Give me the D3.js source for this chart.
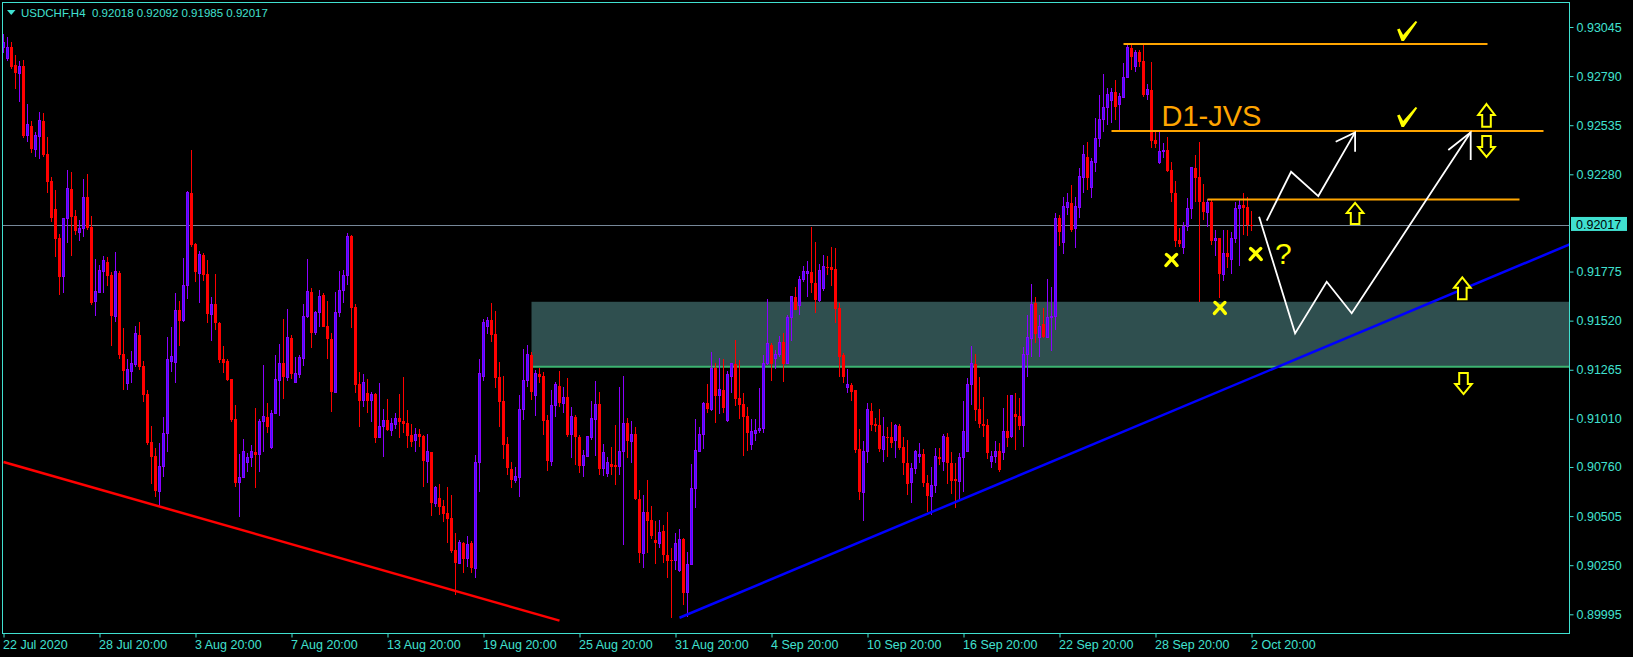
<!DOCTYPE html>
<html><head><meta charset="utf-8">
<script src="https://cdn.jsdelivr.net/npm/d3@7"></script>
<style>html,body{margin:0;padding:0;background:#000;overflow:hidden}svg{display:block}</style>
</head><body><svg id="c" width="1633" height="657"></svg>
<script>
// ---------------- DATA ----------------
const symbol = "USDCHF,H4";
const lastQuote = [0.92018, 0.92092, 0.91985, 0.92017];
const currentPrice = 0.92017;

const open = [
0.92936,0.92879,0.92941,0.92848,0.92806,0.92842,0.92479,0.92531,0.92411,0.92474,
0.92557,0.92385,0.92245,0.92100,0.91949,0.91747,0.92048,0.92204,0.92063,0.91980,
0.91996,0.92162,0.92006,0.91617,0.91664,0.91773,0.91824,0.91757,0.91544,0.91767,
0.91347,0.91196,0.91258,0.91290,0.91445,0.91284,0.91139,0.90890,0.90817,0.90635,
0.90760,0.90936,0.91310,0.91305,0.91575,0.91523,0.91705,0.92183,0.91918,0.91767,
0.91861,0.91762,0.91554,0.91606,0.91508,0.91321,0.91310,0.91217,0.91009,0.90677,
0.90703,0.90781,0.90807,0.90838,0.90827,0.90994,0.91020,0.90859,0.91040,0.91207,
0.91300,0.91227,0.91430,0.91201,0.91238,0.91326,0.91544,0.91669,0.91456,0.91560,
0.91653,0.91492,0.91425,0.91149,0.91560,0.91679,0.91752,0.91959,0.91591,0.91191,
0.91103,0.91144,0.91103,0.91139,0.90911,0.90968,0.91004,0.90952,0.90983,0.91014,
0.90999,0.90988,0.90926,0.90900,0.90931,0.90921,0.90791,0.90838,0.90573,0.90599,
0.90557,0.90521,0.90495,0.90329,0.90261,0.90365,0.90287,0.90365,0.90235,0.90781,
0.91232,0.91492,0.91523,0.91451,0.91227,0.91103,0.90879,0.90750,0.90692,0.90708,
0.91061,0.91207,0.91342,0.91129,0.91243,0.91232,0.91004,0.90791,0.91077,0.91181,
0.91092,0.91123,0.90931,0.91020,0.90916,0.90770,0.90817,0.90911,0.91009,0.91087,
0.90750,0.90724,0.90775,0.90770,0.90760,0.90843,0.90988,0.90890,0.90931,0.90594,
0.90313,0.90526,0.90485,0.90381,0.90365,0.90428,0.90303,0.90277,0.90272,0.90220,
0.90386,0.90106,0.90256,0.90646,0.90843,0.90931,0.91092,0.91061,0.91274,0.91129,
0.91160,0.91004,0.91232,0.91295,0.91118,0.91087,0.91025,0.90879,0.90936,0.90947,
0.90962,0.91295,0.91393,0.91321,0.91342,0.91409,0.91295,0.91534,0.91643,0.91601,
0.91736,0.91767,0.91773,0.91715,0.91627,0.91689,0.91799,0.91799,0.91788,0.91586,
0.91342,0.91175,0.91186,0.91160,0.90853,0.90630,0.90838,0.91051,0.90983,0.90978,
0.90853,0.90916,0.90916,0.90895,0.90973,0.90864,0.90781,0.90677,0.90750,0.90817,
0.90827,0.90677,0.90609,0.90666,0.90812,0.90786,0.90916,0.90781,0.90698,0.90687,
0.90807,0.90843,0.91191,0.91295,0.91061,0.90983,0.90978,0.90786,0.90812,0.90843,
0.90833,0.90947,0.90916,0.91035,0.91025,0.90973,0.91342,0.91425,0.91612,0.91435,
0.91502,0.91435,0.91534,0.91539,0.92053,0.91928,0.92110,0.92131,0.91996,0.92110,
0.92266,0.92370,0.92214,0.92339,0.92468,0.92567,0.92629,0.92661,0.92707,0.92640,
0.92681,0.92785,0.92936,0.92842,0.92915,0.92868,0.92692,0.92718,0.92458,0.92339,
0.92396,0.92406,0.92302,0.92183,0.91939,0.91902,0.92011,0.92105,0.92313,0.92266,
0.92136,0.92084,0.92136,0.91934,0.91949,0.91762,0.91871,0.91840,0.91949,0.92105,
0.92120,0.92110,0.92018];

const high = [
0.93008,0.92993,0.92967,0.92899,0.92868,0.92873,0.92645,0.92557,0.92500,0.92603,
0.92598,0.92474,0.92266,0.92198,0.91970,0.92048,0.92302,0.92292,0.92095,0.92043,
0.92255,0.92281,0.92063,0.91840,0.91809,0.91856,0.91850,0.91773,0.91876,0.91778,
0.91482,0.91321,0.91362,0.91492,0.91513,0.91310,0.91160,0.90973,0.90859,0.90885,
0.91020,0.91435,0.91487,0.91664,0.91622,0.91845,0.92193,0.92406,0.91923,0.91882,
0.91871,0.91835,0.91643,0.91762,0.91513,0.91388,0.91321,0.91217,0.91082,0.90827,
0.90905,0.90833,0.90874,0.91066,0.91009,0.91290,0.91092,0.91056,0.91342,0.91399,
0.91528,0.91580,0.91445,0.91331,0.91342,0.91606,0.91840,0.91689,0.91570,0.91679,
0.91664,0.91622,0.91456,0.91669,0.91778,0.91783,0.91975,0.91965,0.91606,0.91253,
0.91243,0.91217,0.91149,0.91144,0.91196,0.91061,0.91113,0.91014,0.91040,0.91139,
0.91227,0.91056,0.90983,0.90962,0.90957,0.90926,0.90931,0.90838,0.90661,0.90672,
0.90589,0.90656,0.90615,0.90417,0.90381,0.90370,0.90402,0.90376,0.90822,0.91321,
0.91528,0.91539,0.91612,0.91570,0.91305,0.91232,0.90916,0.90786,0.90760,0.91134,
0.91373,0.91393,0.91357,0.91264,0.91274,0.91253,0.91030,0.91160,0.91201,0.91258,
0.91175,0.91222,0.91071,0.91030,0.90926,0.90848,0.90921,0.91103,0.91207,0.91149,
0.90879,0.90812,0.90864,0.90978,0.91175,0.91232,0.91014,0.90999,0.90968,0.90640,
0.90615,0.90692,0.90557,0.90479,0.90485,0.90459,0.90526,0.90339,0.90417,0.90438,
0.90391,0.90318,0.90775,0.91009,0.90968,0.91097,0.91191,0.91357,0.91300,0.91326,
0.91321,0.91258,0.91300,0.91420,0.91316,0.91144,0.91071,0.91009,0.91009,0.91170,
0.91342,0.91632,0.91404,0.91367,0.91440,0.91456,0.91549,0.91648,0.91695,0.91752,
0.91804,0.91830,0.92006,0.91928,0.91814,0.91861,0.91856,0.91902,0.91897,0.91612,
0.91352,0.91269,0.91196,0.91160,0.90957,0.90895,0.91092,0.91092,0.91014,0.91061,
0.91020,0.90968,0.90994,0.90983,0.90983,0.90916,0.90900,0.90781,0.90848,0.90885,
0.90853,0.90718,0.90760,0.90859,0.90859,0.90931,0.90936,0.90838,0.90781,0.90833,
0.91103,0.91222,0.91388,0.91347,0.91227,0.91123,0.91009,0.90843,0.90895,0.90885,
0.91066,0.91134,0.91134,0.91144,0.91118,0.91383,0.91549,0.91710,0.91643,0.91549,
0.91586,0.91736,0.91695,0.92079,0.92068,0.92162,0.92183,0.92224,0.92162,0.92313,
0.92432,0.92448,0.92365,0.92572,0.92692,0.92801,0.92728,0.92728,0.92770,0.92702,
0.92858,0.92957,0.92951,0.92925,0.92925,0.92957,0.92749,0.92863,0.92500,0.92500,
0.92442,0.92474,0.92344,0.92245,0.92001,0.92032,0.92157,0.92313,0.92380,0.92448,
0.92230,0.92152,0.92147,0.91991,0.91949,0.91991,0.91991,0.91980,0.92136,0.92147,
0.92183,0.92162,0.92092];

const low = [
0.92910,0.92868,0.92827,0.92723,0.92655,0.92468,0.92448,0.92390,0.92370,0.92359,
0.92370,0.92183,0.92032,0.91850,0.91653,0.91664,0.91923,0.91856,0.91965,0.91934,
0.91954,0.91991,0.91601,0.91544,0.91664,0.91664,0.91700,0.91388,0.91513,0.91321,
0.91160,0.91160,0.91196,0.91279,0.91264,0.91097,0.90874,0.90672,0.90604,0.90552,
0.90708,0.90838,0.91253,0.91196,0.91388,0.91513,0.91632,0.91902,0.91721,0.91612,
0.91726,0.91508,0.91414,0.91471,0.91300,0.91248,0.91207,0.90994,0.90656,0.90500,
0.90703,0.90734,0.90760,0.90651,0.90734,0.90838,0.90936,0.90853,0.91035,0.91025,
0.91113,0.91207,0.91217,0.91196,0.91222,0.91284,0.91534,0.91378,0.91445,0.91487,
0.91487,0.91321,0.91046,0.91144,0.91539,0.91612,0.91705,0.91482,0.91144,0.90968,
0.91071,0.91040,0.90994,0.90885,0.90911,0.90812,0.90947,0.90921,0.90957,0.90911,
0.90936,0.90859,0.90864,0.90838,0.90864,0.90656,0.90677,0.90505,0.90552,0.90511,
0.90474,0.90365,0.90313,0.90095,0.90261,0.90209,0.90241,0.90209,0.90183,0.90630,
0.91207,0.91451,0.91409,0.91170,0.90968,0.90801,0.90718,0.90651,0.90677,0.90604,
0.91004,0.91175,0.91108,0.91025,0.91196,0.90926,0.90739,0.90765,0.91020,0.91071,
0.91040,0.90916,0.90807,0.90770,0.90729,0.90708,0.90812,0.90900,0.90817,0.90718,
0.90713,0.90708,0.90718,0.90666,0.90718,0.90355,0.90807,0.90781,0.90589,0.90261,
0.90235,0.90313,0.90386,0.90256,0.90339,0.90261,0.90183,0.89976,0.90225,0.90215,
0.90043,0.89981,0.90251,0.90547,0.90838,0.90853,0.91040,0.91051,0.90988,0.91035,
0.91040,0.90994,0.91144,0.91077,0.91009,0.90817,0.90843,0.90848,0.90895,0.90936,
0.90936,0.91290,0.91207,0.91269,0.91331,0.91201,0.91295,0.91414,0.91575,0.91549,
0.91721,0.91643,0.91664,0.91560,0.91617,0.91674,0.91757,0.91700,0.91508,0.91227,
0.91196,0.91144,0.91103,0.90833,0.90589,0.90479,0.90781,0.90947,0.90942,0.90838,
0.90786,0.90812,0.90859,0.90807,0.90848,0.90718,0.90615,0.90573,0.90724,0.90781,
0.90656,0.90526,0.90511,0.90625,0.90770,0.90739,0.90672,0.90620,0.90547,0.90583,
0.90630,0.90843,0.91082,0.90999,0.90962,0.90916,0.90801,0.90755,0.90781,0.90734,
0.90796,0.90864,0.90911,0.90848,0.90952,0.90864,0.91227,0.91331,0.91404,0.91331,
0.91430,0.91430,0.91362,0.91472,0.91907,0.91866,0.92068,0.91980,0.91897,0.92053,
0.92183,0.92198,0.92157,0.92292,0.92422,0.92500,0.92536,0.92546,0.92562,0.92510,
0.92676,0.92780,0.92821,0.92811,0.92837,0.92681,0.92666,0.92416,0.92416,0.92333,
0.92365,0.92292,0.92136,0.91902,0.91902,0.91866,0.91985,0.92048,0.92136,0.91617,
0.92043,0.92006,0.91913,0.91856,0.91638,0.91726,0.91793,0.91762,0.91923,0.91804,
0.91965,0.91959,0.91985];

const close = [
0.92967,0.92941,0.92837,0.92806,0.92842,0.92479,0.92541,0.92411,0.92479,0.92562,
0.92380,0.92240,0.92053,0.91944,0.91747,0.92048,0.92204,0.92058,0.91985,0.91996,
0.92162,0.92001,0.91612,0.91669,0.91783,0.91830,0.91752,0.91544,0.91773,0.91342,
0.91258,0.91264,0.91295,0.91451,0.91279,0.91134,0.90885,0.90812,0.90635,0.90760,
0.90936,0.91316,0.91336,0.91575,0.91518,0.91705,0.92183,0.91913,0.91773,0.91861,
0.91757,0.91554,0.91606,0.91508,0.91316,0.91300,0.91212,0.91004,0.90677,0.90703,
0.90838,0.90807,0.90838,0.90822,0.90994,0.91020,0.90968,0.91040,0.91212,0.91300,
0.91227,0.91435,0.91243,0.91243,0.91331,0.91544,0.91669,0.91456,0.91560,0.91648,
0.91487,0.91425,0.91149,0.91560,0.91674,0.91757,0.91959,0.91586,0.91186,0.91103,
0.91201,0.91103,0.91134,0.90911,0.90968,0.91004,0.90952,0.90988,0.91014,0.90994,
0.90983,0.90921,0.90890,0.90931,0.90916,0.90791,0.90838,0.90573,0.90651,0.90552,
0.90516,0.90490,0.90324,0.90261,0.90370,0.90282,0.90360,0.90235,0.90781,0.91243,
0.91508,0.91523,0.91445,0.91222,0.91097,0.90874,0.90755,0.90692,0.90713,0.91061,
0.91207,0.91342,0.91149,0.91243,0.91227,0.90999,0.90791,0.91077,0.91186,0.91092,
0.91123,0.90926,0.91020,0.90916,0.90765,0.90822,0.90916,0.91014,0.91087,0.90750,
0.90833,0.90781,0.90760,0.90760,0.90843,0.90988,0.90895,0.90931,0.90594,0.90313,
0.90526,0.90479,0.90402,0.90365,0.90422,0.90303,0.90272,0.90272,0.90365,0.90386,
0.90106,0.90256,0.90646,0.90848,0.90931,0.91092,0.91061,0.91274,0.91129,0.91165,
0.91066,0.91238,0.91295,0.91113,0.91082,0.91020,0.90936,0.90942,0.90952,0.90962,
0.91295,0.91399,0.91295,0.91342,0.91404,0.91295,0.91534,0.91643,0.91575,0.91736,
0.91773,0.91773,0.91715,0.91627,0.91783,0.91799,0.91793,0.91783,0.91580,0.91331,
0.91227,0.91186,0.91149,0.90848,0.90630,0.90838,0.91056,0.90978,0.90973,0.90853,
0.90916,0.90911,0.90885,0.90973,0.90859,0.90781,0.90672,0.90750,0.90838,0.90827,
0.90677,0.90609,0.90666,0.90812,0.90801,0.90916,0.90781,0.90687,0.90687,0.90807,
0.90942,0.91191,0.91295,0.91056,0.90983,0.90973,0.90833,0.90812,0.90843,0.90744,
0.90942,0.90911,0.91129,0.91020,0.90973,0.91342,0.91430,0.91606,0.91451,0.91492,
0.91435,0.91534,0.91539,0.92053,0.91980,0.92115,0.92131,0.91991,0.92115,0.92271,
0.92385,0.92261,0.92344,0.92468,0.92567,0.92629,0.92697,0.92707,0.92629,0.92686,
0.92785,0.92936,0.92889,0.92915,0.92863,0.92692,0.92718,0.92453,0.92437,0.92401,
0.92406,0.92297,0.92183,0.91934,0.91918,0.92011,0.92105,0.92313,0.92261,0.92136,
0.92084,0.92136,0.91934,0.91949,0.91762,0.91871,0.91850,0.91949,0.92105,0.92120,
0.92105,0.92017,0.92017];

const priceTicks = [0.93045,0.92790,0.92535,0.92280,0.91775,0.91520,0.91265,0.91010,0.90760,0.90505,0.90250,0.89995];
const timeLabels = ["22 Jul 2020","28 Jul 20:00","3 Aug 20:00","7 Aug 20:00","13 Aug 20:00","19 Aug 20:00","25 Aug 20:00","31 Aug 20:00","4 Sep 20:00","10 Sep 20:00","16 Sep 20:00","22 Sep 20:00","28 Sep 20:00","2 Oct 20:00"];
const barsPerLabel = 24;

// drawn objects, in (bar index, price)
const zoneStart = 132, zoneTop = 0.91618, zoneBottom = 0.91281;
const redTrend = [[0, 0.90786], [139, 0.89962]];
const blueTrend = [[169, 0.89977], [392, 0.91920]];
const levelFrom = [280, 277, 301];
const levelTo = [371, 385, 379];
const levelPrice = [0.92957, 0.92505, 0.92149];
const pathA = [[315.8,0.92039],[321.9,0.92293],[328.7,0.92167],[337.9,0.92498]];
const headA = [[333.05,0.92449],[337.9,0.92498],[337.9,0.92397]];
const pathB = [[313.9,0.92060],[322.9,0.91454],[330.8,0.91722],[337.05,0.91558],[366.8,0.92498]];
const headB = [[361.2,0.92406],[366.8,0.92498],[366.8,0.92354]];
const arrowBar = [370.75, 370.75, 337.9, 364.7, 365];
const arrowTop = [0.92645, 0.92479, 0.92132, 0.91745, 0.91248];
const arrowBottom = [0.92527, 0.92370, 0.92022, 0.91631, 0.91139];
const arrowDir = ["up","down","up","up","down"];
const checkBar = [350.9, 350.9];
const checkPrice = [0.93024, 0.92577];
const crossBar = [292, 304.1, 313.05];
const crossPrice = [0.91835, 0.91586, 0.91866];
const questionAt = [317.9, 0.91814];
const labelText = "D1-JVS", labelAt = [289.5, 0.92531];

// ---------------- DRAW ----------------
const W = 1633, H = 657;
const L = 2.5, R = 1569.5, T = 2.5, B = 633.5;
const AXIS = "#40E0D0", BEAR = "#ff0000", BULL_LINE = "#8c00ff", BULL_FILL = "#3418ff";
const YEL = "#ffff00", ORANGE = "#ffa500";
const FONT = "'Liberation Sans', Arial, sans-serif";

const svg = d3.select("#c");
svg.append("rect").attr("width", W).attr("height", H).attr("fill", "#000");

const N = open.length;
const x = d3.scaleLinear().domain([0, N - 1]).range([3.5, 3.5 + 4 * (N - 1)]);
const y = d3.scaleLinear().domain([0.89995, 0.93045]).range([614.3, 27]);

svg.append("defs").append("clipPath").attr("id", "pc")
  .append("rect").attr("x", 3).attr("y", 3).attr("width", R - 3.5).attr("height", B - 3.5);

const plot = svg.append("g").attr("clip-path", "url(#pc)");

// zone
plot.append("rect").attr("x", x(zoneStart)).attr("y", y(zoneTop))
  .attr("width", R - x(zoneStart)).attr("height", y(zoneBottom) - y(zoneTop))
  .attr("fill", "#2f4f4f");
plot.append("line").attr("x1", x(zoneStart)).attr("x2", R)
  .attr("y1", y(zoneBottom)).attr("y2", y(zoneBottom))
  .attr("stroke", "#3cb371").attr("stroke-width", 2);

// current price line
plot.append("line").attr("x1", L).attr("x2", R)
  .attr("y1", Math.round(y(currentPrice)) + 0.5).attr("y2", Math.round(y(currentPrice)) + 0.5)
  .attr("stroke", "#778899").attr("stroke-width", 1);

// candles
const idx = d3.range(N);
const isBull = i => close[i] >= open[i] && close[i] !== open[i];
plot.append("g").selectAll("line").data(idx).join("line")
  .attr("x1", i => x(i)).attr("x2", i => x(i))
  .attr("y1", i => y(high[i])).attr("y2", i => y(low[i]))
  .attr("stroke", i => isBull(i) ? BULL_LINE : BEAR)
  .attr("stroke-width", 1).attr("shape-rendering", "crispEdges");
plot.append("g").selectAll("rect").data(idx.filter(i => !isBull(i))).join("rect")
  .attr("x", i => x(i) - 1.5).attr("width", 3)
  .attr("y", i => y(open[i]))
  .attr("height", i => Math.max(1, y(close[i]) - y(open[i])))
  .attr("fill", BEAR).attr("shape-rendering", "crispEdges");
plot.append("g").selectAll("rect").data(idx.filter(isBull)).join("rect")
  .attr("x", i => x(i) - 1).attr("width", 2)
  .attr("y", i => y(close[i]))
  .attr("height", i => Math.max(0.5, y(open[i]) - y(close[i])))
  .attr("fill", BULL_FILL).attr("stroke", BULL_LINE).attr("stroke-width", 1)
  .attr("shape-rendering", "crispEdges");

// trend lines
const ln = d3.line().x(d => x(d[0])).y(d => y(d[1]));
function extend(pts, x0, x1) {
  const [a, b] = pts, s = (b[1] - a[1]) / (b[0] - a[0]);
  return [[x0, a[1] + s * (x0 - a[0])], [x1, a[1] + s * (x1 - a[0])]];
}
plot.append("path").attr("d", ln(redTrend)).attr("stroke", BEAR).attr("stroke-width", 2.5).attr("fill", "none");
plot.append("path").attr("d", ln(extend(blueTrend, blueTrend[0][0], 420))).attr("stroke", "#0000ff").attr("stroke-width", 2.5).attr("fill", "none");

// orange levels
plot.append("g").selectAll("line").data(levelPrice).join("line")
  .attr("x1", (d, k) => x(levelFrom[k])).attr("x2", (d, k) => x(levelTo[k]))
  .attr("y1", d => y(d)).attr("y2", d => y(d))
  .attr("stroke", ORANGE).attr("stroke-width", 2);

plot.append("text").attr("x", x(labelAt[0])).attr("y", y(labelAt[1]))
  .attr("fill", ORANGE).attr("font-family", FONT).attr("font-size", 29).text(labelText);

// white scenario paths
[pathA, headA, pathB, headB].forEach(p => {
  plot.append("path").attr("d", ln(p)).attr("fill", "none")
    .attr("stroke", "#fff").attr("stroke-width", 1.8).attr("stroke-linejoin", "miter");
});

// hollow arrows
arrowBar.forEach((b, k) => {
  const cx = x(b), t = y(arrowTop[k]), bt = y(arrowBottom[k]), h = bt - t;
  const hw = 8.3, sw = 4.3, hh = h * 0.48;
  let pts;
  if (arrowDir[k] === "up")
    pts = [[cx, t], [cx + hw, t + hh], [cx + sw, t + hh], [cx + sw, bt], [cx - sw, bt], [cx - sw, t + hh], [cx - hw, t + hh]];
  else
    pts = [[cx, bt], [cx + hw, bt - hh], [cx + sw, bt - hh], [cx + sw, t], [cx - sw, t], [cx - sw, bt - hh], [cx - hw, bt - hh]];
  plot.append("path").attr("d", "M" + pts.map(p => p.join(",")).join("L") + "Z")
    .attr("fill", "#000").attr("stroke", YEL).attr("stroke-width", 2).attr("stroke-linejoin", "miter");
});

// check marks
checkBar.forEach((b, k) => {
  plot.append("path").attr("transform", `translate(${x(b)},${y(checkPrice[k])})`)
    .attr("d", "M-10,-1.5L-7.5,-2.5L-4,4L8.5,-10L10.2,-9L-3.2,10L-5.6,10Z")
    .attr("fill", YEL);
});

// crosses
crossBar.forEach((b, k) => {
  const gx = plot.append("g").attr("transform", `translate(${x(b)},${y(crossPrice[k])})`);
  gx.append("path").attr("d", "M-5,-5.5Q-1,-2.5 5.5,5.5").attr("stroke", YEL).attr("stroke-width", 3.4).attr("fill", "none").attr("stroke-linecap", "round");
  gx.append("path").attr("d", "M5,-5.5Q0,-1 -5.5,5.5").attr("stroke", YEL).attr("stroke-width", 3.4).attr("fill", "none").attr("stroke-linecap", "round");
});

plot.append("text").attr("x", x(questionAt[0])).attr("y", y(questionAt[1]))
  .attr("fill", YEL).attr("font-family", FONT).attr("font-size", 30).text("?");

// frame
svg.append("rect").attr("x", L).attr("y", T).attr("width", R - L).attr("height", B - T)
  .attr("fill", "none").attr("stroke", AXIS).attr("stroke-width", 1);

// y axis
const yAxis = d3.axisRight(y).tickValues(priceTicks).tickFormat(d3.format(".5f")).tickSize(4).tickPadding(3);
const gy = svg.append("g").attr("transform", `translate(${R},0)`).call(yAxis);
gy.select(".domain").remove();
gy.selectAll(".tick line").attr("stroke", AXIS);
gy.selectAll(".tick text").attr("fill", AXIS).attr("font-family", FONT).attr("font-size", 12.5);

// x axis
const xAxis = d3.axisBottom(x).tickValues(d3.range(0, N, barsPerLabel))
  .tickFormat((d, k) => timeLabels[k]).tickSize(4).tickPadding(2.5);
const gx = svg.append("g").attr("transform", `translate(0,${B})`).call(xAxis);
gx.select(".domain").remove();
gx.selectAll(".tick line").attr("stroke", AXIS);
gx.selectAll(".tick text").attr("fill", AXIS).attr("font-family", FONT).attr("font-size", 12.5)
  .attr("text-anchor", "start").attr("x", -1);

// current price label
const yc = y(currentPrice);
svg.append("rect").attr("x", 1571).attr("y", yc - 8).attr("width", 56).attr("height", 14).attr("fill", AXIS);
svg.append("text").attr("x", 1576).attr("y", yc).attr("dy", "0.32em")
  .attr("fill", "#000").attr("font-family", FONT).attr("font-size", 12.5).text(d3.format(".5f")(currentPrice));

// header
svg.append("path").attr("d", "M7,10L15.5,10L11.25,15Z").attr("fill", AXIS);
svg.append("text").attr("x", 21).attr("y", 17).attr("fill", AXIS).attr("font-family", FONT).attr("font-size", 11.5)
  .text(symbol);
svg.append("text").attr("x", 92).attr("y", 17).attr("fill", AXIS).attr("font-family", FONT).attr("font-size", 11.5)
  .text(lastQuote.map(d3.format(".5f")).join(" "));
</script>
</body></html>
